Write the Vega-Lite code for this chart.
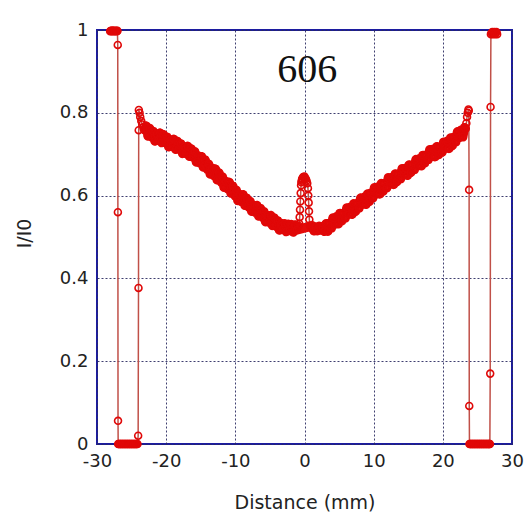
{
  "$schema": "https://vega.github.io/schema/vega-lite/v6.json",
  "width": 415,
  "height": 414,
  "autosize": {"type": "none"},
  "padding": {"left": 97, "top": 30, "right": 18, "bottom": 74},
  "background": "white",
  "config": {
    "view": {"stroke": "#1c1ca0", "strokeWidth": 2},
    "axis": {
      "labelFont": "DejaVu Sans",
      "labelFontSize": 18,
      "labelColor": "#222222",
      "labelPadding": 8,
      "labelFlush": false,
      "ticks": false,
      "tickSize": 0,
      "domain": false,
      "grid": true,
      "gridColor": "#2a2a60",
      "gridDash": [2, 2],
      "gridWidth": 1,
      "gridOpacity": 0.9,
      "titleFont": "DejaVu Sans",
      "titleFontSize": 19,
      "titleFontWeight": "normal",
      "titleColor": "#222222"
    }
  },
  "layer": [
    {
      "data": {
        "values": [
          {"x": -28.1, "y": 0.997}, {"x": -28.0, "y": 0.998}, {"x": -27.9, "y": 0.997}, {"x": -27.8, "y": 0.999},
          {"x": -27.7, "y": 0.997}, {"x": -27.6, "y": 0.998}, {"x": -27.5, "y": 0.997}, {"x": -27.4, "y": 0.998},
          {"x": -27.3, "y": 0.997}, {"x": -27.2, "y": 0.998}, {"x": -27.1, "y": 0.997}, {"x": -27.05, "y": 0.998},
          {"x": -27.0, "y": 0.964}, {"x": -26.98, "y": 0.56}, {"x": -26.96, "y": 0.056}, {"x": -26.94, "y": 0.0},
          {"x": -26.85, "y": 0.0}, {"x": -26.75, "y": 0.0}, {"x": -26.65, "y": 0.0}, {"x": -26.55, "y": 0.0},
          {"x": -26.45, "y": 0.0}, {"x": -26.35, "y": 0.0}, {"x": -26.25, "y": 0.0}, {"x": -26.15, "y": 0.0},
          {"x": -26.05, "y": 0.0}, {"x": -25.95, "y": 0.0}, {"x": -25.85, "y": 0.0}, {"x": -25.75, "y": 0.0},
          {"x": -25.65, "y": 0.0}, {"x": -25.55, "y": 0.0}, {"x": -25.45, "y": 0.0}, {"x": -25.35, "y": 0.0},
          {"x": -25.25, "y": 0.0}, {"x": -25.15, "y": 0.0}, {"x": -25.05, "y": 0.0}, {"x": -24.95, "y": 0.0},
          {"x": -24.85, "y": 0.0}, {"x": -24.75, "y": 0.0}, {"x": -24.65, "y": 0.0}, {"x": -24.55, "y": 0.0},
          {"x": -24.45, "y": 0.0}, {"x": -24.35, "y": 0.0}, {"x": -24.25, "y": 0.0}, {"x": -24.15, "y": 0.0},
          {"x": -24.05, "y": 0.02}, {"x": -24.0, "y": 0.377},
          {"x": -23.97, "y": 0.758}, {"x": -23.95, "y": 0.807}, {"x": -23.85, "y": 0.8}, {"x": -23.75, "y": 0.79},
          {"x": -23.6, "y": 0.78}, {"x": -23.45, "y": 0.772}, {"x": -23.3, "y": 0.765}, {"x": -23.15, "y": 0.76},
          {"x": -23.0, "y": 0.758}, {"x": -22.875, "y": 0.768},
          {"x": -22.75, "y": 0.760}, {"x": -22.5, "y": 0.749}, {"x": -22.25, "y": 0.757}, {"x": -22.0, "y": 0.741},
          {"x": -21.75, "y": 0.747}, {"x": -21.5, "y": 0.735}, {"x": -21.25, "y": 0.746}, {"x": -21.0, "y": 0.740},
          {"x": -20.75, "y": 0.743}, {"x": -20.5, "y": 0.734}, {"x": -20.25, "y": 0.742}, {"x": -20.0, "y": 0.727},
          {"x": -19.75, "y": 0.733}, {"x": -19.5, "y": 0.721}, {"x": -19.25, "y": 0.731}, {"x": -19.0, "y": 0.725},
          {"x": -18.75, "y": 0.728}, {"x": -18.5, "y": 0.718}, {"x": -18.25, "y": 0.726}, {"x": -18.0, "y": 0.711},
          {"x": -17.75, "y": 0.717}, {"x": -17.5, "y": 0.705}, {"x": -17.25, "y": 0.714}, {"x": -17.0, "y": 0.708},
          {"x": -16.75, "y": 0.711}, {"x": -16.5, "y": 0.700}, {"x": -16.25, "y": 0.708}, {"x": -16.0, "y": 0.692},
          {"x": -15.75, "y": 0.697}, {"x": -15.5, "y": 0.683}, {"x": -15.25, "y": 0.692}, {"x": -15.0, "y": 0.684},
          {"x": -14.75, "y": 0.685}, {"x": -14.5, "y": 0.674}, {"x": -14.25, "y": 0.680}, {"x": -14.0, "y": 0.663},
          {"x": -13.75, "y": 0.667}, {"x": -13.5, "y": 0.654}, {"x": -13.25, "y": 0.662}, {"x": -13.0, "y": 0.654},
          {"x": -12.75, "y": 0.655}, {"x": -12.5, "y": 0.643}, {"x": -12.25, "y": 0.649}, {"x": -12.0, "y": 0.632},
          {"x": -11.75, "y": 0.636}, {"x": -11.5, "y": 0.622}, {"x": -11.25, "y": 0.630}, {"x": -11.0, "y": 0.622},
          {"x": -10.75, "y": 0.623}, {"x": -10.5, "y": 0.611}, {"x": -10.25, "y": 0.616}, {"x": -10.0, "y": 0.599},
          {"x": -9.75, "y": 0.604}, {"x": -9.5, "y": 0.590}, {"x": -9.25, "y": 0.599}, {"x": -9.0, "y": 0.591},
          {"x": -8.75, "y": 0.593}, {"x": -8.5, "y": 0.582}, {"x": -8.25, "y": 0.588}, {"x": -8.0, "y": 0.572},
          {"x": -7.75, "y": 0.577}, {"x": -7.5, "y": 0.564}, {"x": -7.25, "y": 0.572}, {"x": -7.0, "y": 0.565},
          {"x": -6.75, "y": 0.567}, {"x": -6.5, "y": 0.556}, {"x": -6.25, "y": 0.563}, {"x": -6.0, "y": 0.547},
          {"x": -5.75, "y": 0.552}, {"x": -5.5, "y": 0.539}, {"x": -5.25, "y": 0.548}, {"x": -5.0, "y": 0.541},
          {"x": -4.75, "y": 0.544}, {"x": -4.5, "y": 0.533}, {"x": -4.25, "y": 0.541}, {"x": -4.0, "y": 0.525},
          {"x": -3.75, "y": 0.531}, {"x": -3.5, "y": 0.520}, {"x": -3.25, "y": 0.530}, {"x": -3.0, "y": 0.524},
          {"x": -2.75, "y": 0.528}, {"x": -2.5, "y": 0.519}, {"x": -2.25, "y": 0.525}, {"x": -2.0, "y": 0.518},
          {"x": -1.75, "y": 0.522}, {"x": -1.5, "y": 0.518}, {"x": -1.25, "y": 0.525}, {"x": -1.0, "y": 0.525},
          {"x": -0.85, "y": 0.527}, {"x": -0.75, "y": 0.532}, {"x": -0.7, "y": 0.548}, {"x": -0.65, "y": 0.566},
          {"x": -0.6, "y": 0.586}, {"x": -0.55, "y": 0.606}, {"x": -0.5, "y": 0.625}, {"x": -0.45, "y": 0.632},
          {"x": -0.4, "y": 0.636}, {"x": -0.35, "y": 0.640},
          {"x": -0.3, "y": 0.641}, {"x": -0.2, "y": 0.645}, {"x": -0.1, "y": 0.643}, {"x": 0.0, "y": 0.646},
          {"x": 0.1, "y": 0.642}, {"x": 0.2, "y": 0.640}, {"x": 0.3, "y": 0.636}, {"x": 0.4, "y": 0.630},
          {"x": 0.5, "y": 0.618}, {"x": 0.55, "y": 0.600}, {"x": 0.6, "y": 0.583}, {"x": 0.65, "y": 0.562},
          {"x": 0.7, "y": 0.542}, {"x": 0.8, "y": 0.528}, {"x": 0.9, "y": 0.524}, {"x": 1.0, "y": 0.522},
          {"x": 1.25, "y": 0.519}, {"x": 1.5, "y": 0.524}, {"x": 1.75, "y": 0.517}, {"x": 2.0, "y": 0.522},
          {"x": 2.25, "y": 0.524}, {"x": 2.5, "y": 0.517}, {"x": 2.75, "y": 0.521}, {"x": 3.0, "y": 0.518},
          {"x": 3.25, "y": 0.519}, {"x": 3.5, "y": 0.532}, {"x": 3.75, "y": 0.522}, {"x": 4.0, "y": 0.535},
          {"x": 4.25, "y": 0.543}, {"x": 4.5, "y": 0.534}, {"x": 4.75, "y": 0.543}, {"x": 5.0, "y": 0.543},
          {"x": 5.25, "y": 0.544}, {"x": 5.5, "y": 0.557}, {"x": 5.75, "y": 0.546}, {"x": 6.0, "y": 0.559},
          {"x": 6.25, "y": 0.567}, {"x": 6.5, "y": 0.557}, {"x": 6.75, "y": 0.566}, {"x": 7.0, "y": 0.566},
          {"x": 7.25, "y": 0.567}, {"x": 7.5, "y": 0.580}, {"x": 7.75, "y": 0.570}, {"x": 8.0, "y": 0.583},
          {"x": 8.25, "y": 0.591}, {"x": 8.5, "y": 0.581}, {"x": 8.75, "y": 0.590}, {"x": 9.0, "y": 0.590},
          {"x": 9.25, "y": 0.591}, {"x": 9.5, "y": 0.605}, {"x": 9.75, "y": 0.595}, {"x": 10.0, "y": 0.608},
          {"x": 10.25, "y": 0.616}, {"x": 10.5, "y": 0.606}, {"x": 10.75, "y": 0.615}, {"x": 11.0, "y": 0.615},
          {"x": 11.25, "y": 0.616}, {"x": 11.5, "y": 0.629}, {"x": 11.75, "y": 0.619}, {"x": 12.0, "y": 0.632},
          {"x": 12.25, "y": 0.640}, {"x": 12.5, "y": 0.630}, {"x": 12.75, "y": 0.638}, {"x": 13.0, "y": 0.638},
          {"x": 13.25, "y": 0.639}, {"x": 13.5, "y": 0.652}, {"x": 13.75, "y": 0.641}, {"x": 14.0, "y": 0.654},
          {"x": 14.25, "y": 0.662}, {"x": 14.5, "y": 0.652}, {"x": 14.75, "y": 0.660}, {"x": 15.0, "y": 0.660},
          {"x": 15.25, "y": 0.661}, {"x": 15.5, "y": 0.674}, {"x": 15.75, "y": 0.663}, {"x": 16.0, "y": 0.676},
          {"x": 16.25, "y": 0.684}, {"x": 16.5, "y": 0.674}, {"x": 16.75, "y": 0.683}, {"x": 17.0, "y": 0.683},
          {"x": 17.25, "y": 0.684}, {"x": 17.5, "y": 0.697}, {"x": 17.75, "y": 0.687}, {"x": 18.0, "y": 0.700},
          {"x": 18.25, "y": 0.708}, {"x": 18.5, "y": 0.697}, {"x": 18.75, "y": 0.706}, {"x": 19.0, "y": 0.705},
          {"x": 19.25, "y": 0.705}, {"x": 19.5, "y": 0.717}, {"x": 19.75, "y": 0.706}, {"x": 20.0, "y": 0.718},
          {"x": 20.25, "y": 0.726}, {"x": 20.5, "y": 0.716}, {"x": 20.75, "y": 0.725}, {"x": 21.0, "y": 0.725},
          {"x": 21.25, "y": 0.726}, {"x": 21.5, "y": 0.740}, {"x": 21.75, "y": 0.730}, {"x": 22.0, "y": 0.743},
          {"x": 22.25, "y": 0.752}, {"x": 22.5, "y": 0.743}, {"x": 22.75, "y": 0.753}, {"x": 23.0, "y": 0.754},
          {"x": 23.25, "y": 0.762}, {"x": 23.4, "y": 0.775}, {"x": 23.5, "y": 0.790}, {"x": 23.6, "y": 0.800},
          {"x": 23.7, "y": 0.808}, {"x": 23.75, "y": 0.805}, {"x": 23.8, "y": 0.614}, {"x": 23.82, "y": 0.092},
          {"x": 23.85, "y": 0.0}, {"x": 23.95, "y": 0.0}, {"x": 24.05, "y": 0.0}, {"x": 24.15, "y": 0.0},
          {"x": 24.25, "y": 0.0}, {"x": 24.35, "y": 0.0}, {"x": 24.45, "y": 0.0}, {"x": 24.55, "y": 0.0},
          {"x": 24.65, "y": 0.0}, {"x": 24.75, "y": 0.0}, {"x": 24.85, "y": 0.0}, {"x": 24.95, "y": 0.0},
          {"x": 25.05, "y": 0.0}, {"x": 25.15, "y": 0.0}, {"x": 25.25, "y": 0.0}, {"x": 25.35, "y": 0.0},
          {"x": 25.45, "y": 0.0}, {"x": 25.55, "y": 0.0}, {"x": 25.65, "y": 0.0}, {"x": 25.75, "y": 0.0},
          {"x": 25.85, "y": 0.0}, {"x": 25.95, "y": 0.0}, {"x": 26.05, "y": 0.0}, {"x": 26.15, "y": 0.0},
          {"x": 26.25, "y": 0.0}, {"x": 26.35, "y": 0.0}, {"x": 26.45, "y": 0.0}, {"x": 26.55, "y": 0.0},
          {"x": 26.65, "y": 0.0}, {"x": 26.75, "y": 0.0}, {"x": 26.8, "y": 0.0},
          {"x": 26.85, "y": 0.17}, {"x": 26.9, "y": 0.814}, {"x": 26.95, "y": 0.99}, {"x": 27.05, "y": 0.993},
          {"x": 27.15, "y": 0.995}, {"x": 27.25, "y": 0.99}, {"x": 27.35, "y": 0.993}, {"x": 27.45, "y": 0.995},
          {"x": 27.55, "y": 0.99}, {"x": 27.65, "y": 0.993}, {"x": 27.75, "y": 0.995}, {"x": 27.85, "y": 0.99},
          {"x": -22.625, "y": 0.744}, {"x": -22.375, "y": 0.762}, {"x": -22.125, "y": 0.745}, {"x": -21.875, "y": 0.755},
          {"x": -21.625, "y": 0.732}, {"x": -21.375, "y": 0.749}, {"x": -21.125, "y": 0.734}, {"x": -20.875, "y": 0.751},
          {"x": -20.625, "y": 0.728}, {"x": -20.375, "y": 0.747}, {"x": -20.125, "y": 0.730}, {"x": -19.875, "y": 0.741},
          {"x": -19.625, "y": 0.718}, {"x": -19.375, "y": 0.734}, {"x": -19.125, "y": 0.719}, {"x": -18.875, "y": 0.736},
          {"x": -18.625, "y": 0.712}, {"x": -18.375, "y": 0.731}, {"x": -18.125, "y": 0.714}, {"x": -17.875, "y": 0.725},
          {"x": -17.625, "y": 0.702}, {"x": -17.375, "y": 0.718}, {"x": -17.125, "y": 0.702}, {"x": -16.875, "y": 0.719},
          {"x": -16.625, "y": 0.695}, {"x": -16.375, "y": 0.713}, {"x": -16.125, "y": 0.696}, {"x": -15.875, "y": 0.706},
          {"x": -15.625, "y": 0.681}, {"x": -15.375, "y": 0.696}, {"x": -15.125, "y": 0.679}, {"x": -14.875, "y": 0.694},
          {"x": -14.625, "y": 0.669}, {"x": -14.375, "y": 0.686}, {"x": -14.125, "y": 0.667}, {"x": -13.875, "y": 0.676},
          {"x": -13.625, "y": 0.652}, {"x": -13.375, "y": 0.666}, {"x": -13.125, "y": 0.649}, {"x": -12.875, "y": 0.664},
          {"x": -12.625, "y": 0.638}, {"x": -12.375, "y": 0.655}, {"x": -12.125, "y": 0.636}, {"x": -11.875, "y": 0.645},
          {"x": -11.625, "y": 0.620}, {"x": -11.375, "y": 0.634}, {"x": -11.125, "y": 0.617}, {"x": -10.875, "y": 0.632},
          {"x": -10.625, "y": 0.606}, {"x": -10.375, "y": 0.623}, {"x": -10.125, "y": 0.603}, {"x": -9.875, "y": 0.613},
          {"x": -9.625, "y": 0.588}, {"x": -9.375, "y": 0.603}, {"x": -9.125, "y": 0.586}, {"x": -8.875, "y": 0.602},
          {"x": -8.625, "y": 0.577}, {"x": -8.375, "y": 0.594}, {"x": -8.125, "y": 0.576}, {"x": -7.875, "y": 0.586},
          {"x": -7.625, "y": 0.562}, {"x": -7.375, "y": 0.576}, {"x": -7.125, "y": 0.560}, {"x": -6.875, "y": 0.576},
          {"x": -6.625, "y": 0.551}, {"x": -6.375, "y": 0.569}, {"x": -6.125, "y": 0.551}, {"x": -5.875, "y": 0.561},
          {"x": -5.625, "y": 0.537}, {"x": -5.375, "y": 0.552}, {"x": -5.125, "y": 0.536}, {"x": -4.875, "y": 0.552},
          {"x": -4.625, "y": 0.528}, {"x": -4.375, "y": 0.546}, {"x": -4.125, "y": 0.529}, {"x": -3.875, "y": 0.539},
          {"x": -3.625, "y": 0.517}, {"x": -3.375, "y": 0.533}, {"x": -3.125, "y": 0.518}, {"x": -2.875, "y": 0.532},
          {"x": -2.625, "y": 0.513}, {"x": -2.375, "y": 0.531}, {"x": -2.125, "y": 0.518}, {"x": -1.875, "y": 0.530},
          {"x": -1.625, "y": 0.512}, {"x": -1.375, "y": 0.529}, {"x": -1.125, "y": 0.517},
          {"x": 1.125, "y": 0.527}, {"x": 1.375, "y": 0.515}, {"x": 1.625, "y": 0.524}, {"x": 1.875, "y": 0.515},
          {"x": 2.125, "y": 0.526}, {"x": 2.375, "y": 0.517}, {"x": 2.625, "y": 0.524}, {"x": 2.875, "y": 0.514},
          {"x": 3.125, "y": 0.532}, {"x": 3.375, "y": 0.514}, {"x": 3.625, "y": 0.533}, {"x": 3.875, "y": 0.522},
          {"x": 4.125, "y": 0.546}, {"x": 4.375, "y": 0.531}, {"x": 4.625, "y": 0.549}, {"x": 4.875, "y": 0.532},
          {"x": 5.125, "y": 0.557}, {"x": 5.375, "y": 0.539}, {"x": 5.625, "y": 0.557}, {"x": 5.875, "y": 0.546},
          {"x": 6.125, "y": 0.570}, {"x": 6.375, "y": 0.555}, {"x": 6.625, "y": 0.572}, {"x": 6.875, "y": 0.555},
          {"x": 7.125, "y": 0.580}, {"x": 7.375, "y": 0.562}, {"x": 7.625, "y": 0.581}, {"x": 7.875, "y": 0.570},
          {"x": 8.125, "y": 0.594}, {"x": 8.375, "y": 0.579}, {"x": 8.625, "y": 0.596}, {"x": 8.875, "y": 0.579},
          {"x": 9.125, "y": 0.604}, {"x": 9.375, "y": 0.586}, {"x": 9.625, "y": 0.606}, {"x": 9.875, "y": 0.595},
          {"x": 10.125, "y": 0.619}, {"x": 10.375, "y": 0.604}, {"x": 10.625, "y": 0.621}, {"x": 10.875, "y": 0.604},
          {"x": 11.125, "y": 0.629}, {"x": 11.375, "y": 0.611}, {"x": 11.625, "y": 0.630}, {"x": 11.875, "y": 0.619},
          {"x": 12.125, "y": 0.643}, {"x": 12.375, "y": 0.628}, {"x": 12.625, "y": 0.644}, {"x": 12.875, "y": 0.627},
          {"x": 13.125, "y": 0.652}, {"x": 13.375, "y": 0.634}, {"x": 13.625, "y": 0.652}, {"x": 13.875, "y": 0.641},
          {"x": 14.125, "y": 0.665}, {"x": 14.375, "y": 0.650}, {"x": 14.625, "y": 0.666}, {"x": 14.875, "y": 0.649},
          {"x": 15.125, "y": 0.674}, {"x": 15.375, "y": 0.656}, {"x": 15.625, "y": 0.674}, {"x": 15.875, "y": 0.663},
          {"x": 16.125, "y": 0.687}, {"x": 16.375, "y": 0.672}, {"x": 16.625, "y": 0.689}, {"x": 16.875, "y": 0.672},
          {"x": 17.125, "y": 0.697}, {"x": 17.375, "y": 0.679}, {"x": 17.625, "y": 0.698}, {"x": 17.875, "y": 0.687},
          {"x": 18.125, "y": 0.711}, {"x": 18.375, "y": 0.695}, {"x": 18.625, "y": 0.712}, {"x": 18.875, "y": 0.694},
          {"x": 19.125, "y": 0.718}, {"x": 19.375, "y": 0.699}, {"x": 19.625, "y": 0.717}, {"x": 19.875, "y": 0.705},
          {"x": 20.125, "y": 0.729}, {"x": 20.375, "y": 0.714}, {"x": 20.625, "y": 0.731}, {"x": 20.875, "y": 0.714},
          {"x": 21.125, "y": 0.739}, {"x": 21.375, "y": 0.721}, {"x": 21.625, "y": 0.741}, {"x": 21.875, "y": 0.730},
          {"x": 22.125, "y": 0.754}, {"x": 22.375, "y": 0.740}, {"x": 22.625, "y": 0.758}, {"x": 22.875, "y": 0.742},
          {"x": 23.125, "y": 0.764}
        ]
      },
      "encoding": {
        "x": {
          "field": "x",
          "type": "quantitative",
          "scale": {"domain": [-30, 30], "nice": false, "zero": false},
          "axis": {
            "values": [-30, -20, -10, 0, 10, 20, 30],
            "format": "d",
            "labelExpr": "replace(datum.label, '\u2212', '-')",
            "title": "Distance (mm)",
            "titleY": 58,
            "titleBaseline": "middle"
          }
        },
        "y": {
          "field": "y",
          "type": "quantitative",
          "scale": {"domain": [0, 1], "nice": false},
          "axis": {
            "values": [0, 0.2, 0.4, 0.6, 0.8, 1],
            "format": "~g",
            "labelPadding": 9,
            "title": "I/I0",
            "titleAngle": -90,
            "titleX": -73,
            "titleY": 203,
            "titleAlign": "center",
            "titleBaseline": "middle"
          }
        }
      },
      "layer": [
        {"mark": {"type": "line", "color": "#c05048", "strokeWidth": 1.5, "clip": false}},
        {
          "transform": [{"filter": "(datum.x > -23.2 && datum.x < -1.0) || (datum.x > 1.0 && datum.x < 23.3)"}],
          "mark": {"type": "line", "color": "#e40a0a", "strokeWidth": 9.5, "strokeJoin": "round", "strokeCap": "round", "clip": false}
        },
        {"mark": {"type": "point", "shape": "circle", "filled": false, "size": 48, "stroke": "#e00808", "strokeWidth": 1.6, "opacity": 1, "clip": false}}
      ]
    },
    {
      "data": {"values": [{"x": 0.4, "y": 0.903, "label": "606"}]},
      "mark": {"type": "text", "font": "Liberation Serif", "fontSize": 40, "color": "#111111", "baseline": "middle", "align": "center"},
      "encoding": {
        "x": {"field": "x", "type": "quantitative"},
        "y": {"field": "y", "type": "quantitative"},
        "text": {"field": "label"}
      }
    }
  ]
}
